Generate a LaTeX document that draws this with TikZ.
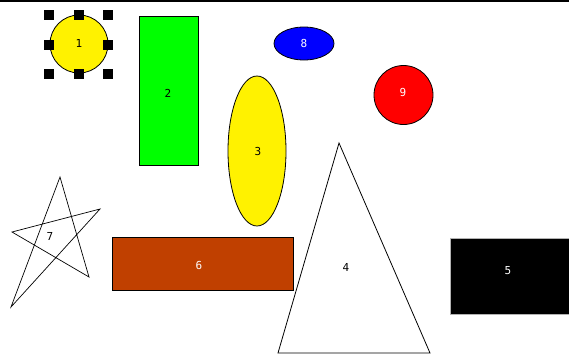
\documentclass[tikz,border=0pt]{standalone}
\usepackage{fontspec}
\setmainfont{DejaVu Sans Mono}
\begin{document}
\begin{tikzpicture}[x=1pt,y=-1pt,
  shp/.style={draw=black,line width=0.8pt},
  lbl/.style={font=\fontsize{11}{12}\selectfont,inner sep=0pt},
  handle/.style={fill=black,minimum size=9.5pt,inner sep=0pt,draw=none}]
\useasboundingbox (0,0) rectangle (569,354);
\draw[line width=2pt] (0,1) -- (569,1);
% 1 circle with handles
\draw[shp,fill=yellow] (79,44) circle (29);
\node[lbl] (t1) at (79,43) {1};
\foreach \x/\y [count=\i] in {49/15,79/15,108/15,49/45,108/45,49/74,79/74,108/74}
  \node[handle] (h\i) at (\x,\y) {};
% 2 rect
\draw[shp,fill=green] (139,16) rectangle (198,165);
\node[lbl] (t2) at (168,93) {2};
% 8 ellipse
\draw[shp,fill=blue] (304,43.5) ellipse (30 and 16.5);
\node[lbl,text=white] (t8) at (304,43) {8};
% 9 circle
\draw[shp,fill=red] (403.5,95) circle (29.5);
\node[lbl,text=white] (t9) at (403,92) {9};
% 3 ellipse
\draw[shp,fill=yellow] (257,151) ellipse (29 and 75);
\node[lbl] (t3) at (258,151) {3};
% 4 triangle
\draw[shp,line join=miter] (339,143) -- (430,353) -- (278,353) -- cycle;
\node[lbl] (t4) at (346,267) {4};
% 5 rect
\draw[draw=gray!60,fill=black] (450,238) rectangle (569,314);
\node[lbl,text=white] (t5) at (508,271) {5};
% 6 rect
\draw[shp,fill={rgb,255:red,192;green,64;blue,0}] (112,237) rectangle (293,290);
\node[lbl,text=white] (t6) at (199,265) {6};
% 7 star
\draw[shp,line width=0.7pt] (60,177) -- (89,277) -- (12,232) -- (100,209) -- (11,307) -- cycle;
\node[lbl] (t7) at (50,236) {7};
\end{tikzpicture}
\end{document}
